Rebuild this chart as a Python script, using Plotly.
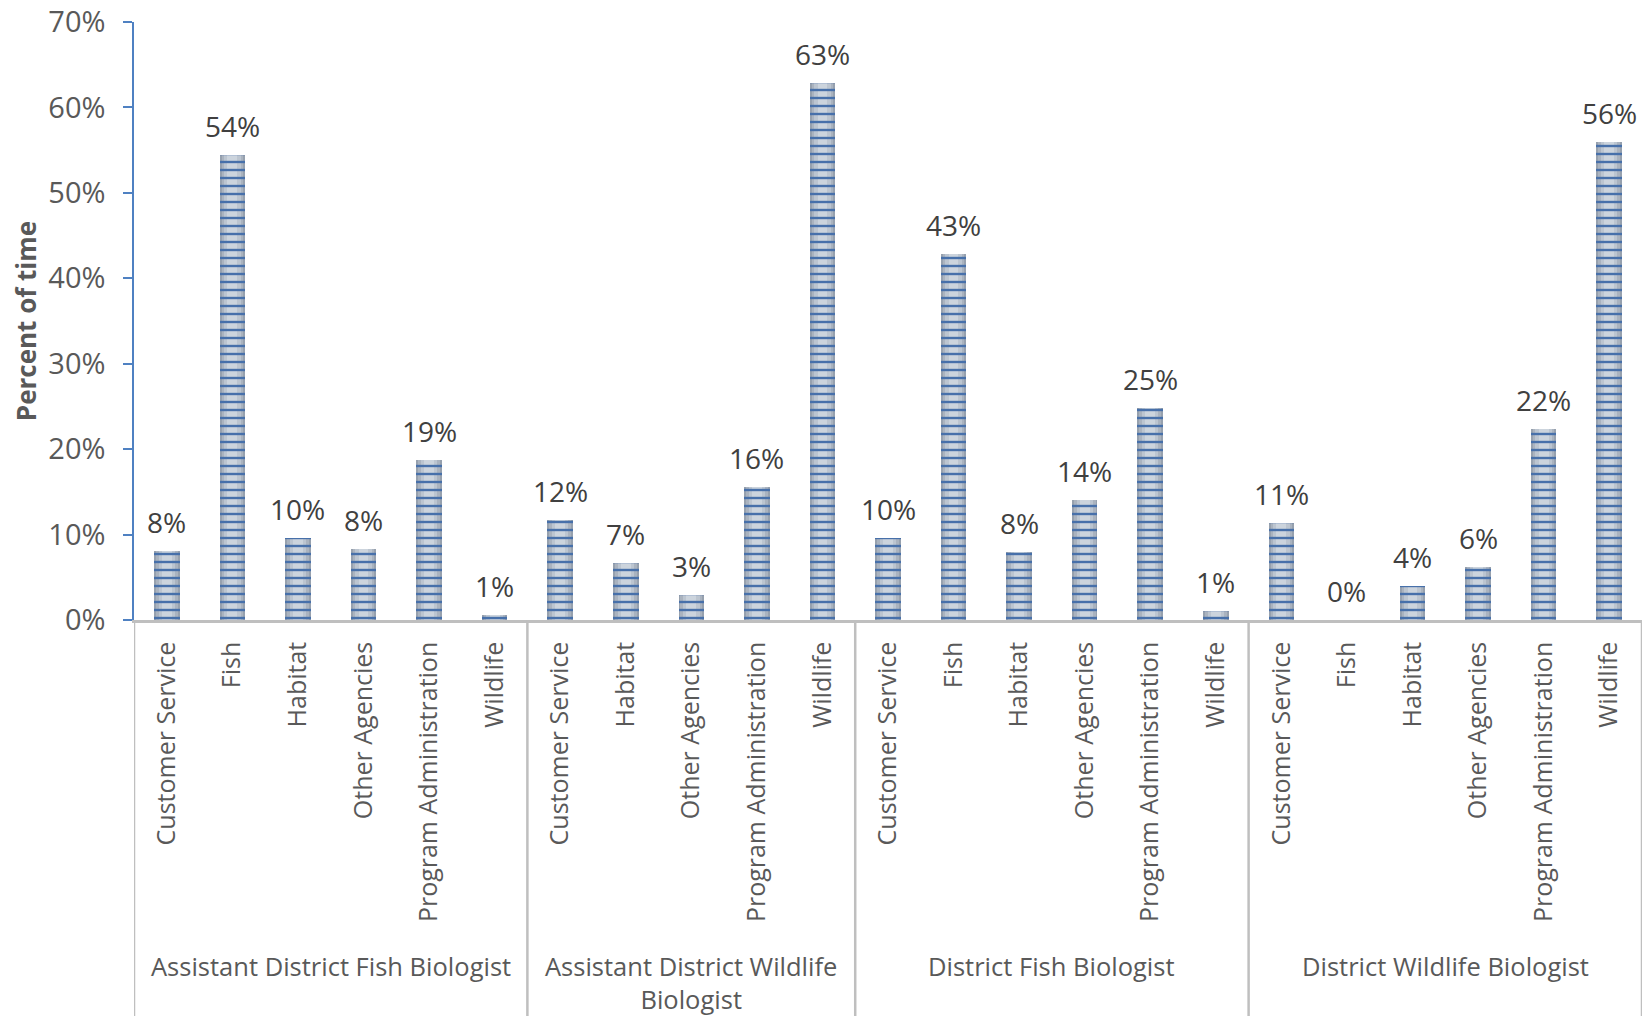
import plotly.graph_objects as go

# ---- data ----
groups = [
    "Assistant District Fish Biologist",
    "Assistant District Wildlife<br>Biologist",
    "District Fish Biologist",
    "District Wildlife Biologist",
]
cats_adfb = ["Customer Service", "Fish", "Habitat", "Other Agencies", "Program Administration", "Wildlife"]
vals_adfb = [8.1, 54.4, 9.6, 8.3, 18.7, 0.6]
cats_adwb = ["Customer Service", "Habitat", "Other Agencies", "Program Administration", "Wildlife"]
vals_adwb = [11.7, 6.7, 2.9, 15.6, 62.9]
cats_dfb = ["Customer Service", "Fish", "Habitat", "Other Agencies", "Program Administration", "Wildlife"]
vals_dfb = [9.6, 42.8, 8.0, 14.0, 24.8, 1.1]
cats_dwb = ["Customer Service", "Fish", "Habitat", "Other Agencies", "Program Administration", "Wildlife"]
vals_dwb = [11.4, 0.0, 4.0, 6.2, 22.3, 55.9]
y_ticks = [0, 10, 20, 30, 40, 50, 60, 70]

group_cats = [cats_adfb, cats_adwb, cats_dfb, cats_dwb]
group_vals = [vals_adfb, vals_adwb, vals_dfb, vals_dwb]

cats, vals = [], []
for c, v in zip(group_cats, group_vals):
    cats += c
    vals += v
xs = list(range(len(cats)))
yv = [v / 100 for v in vals]

FONT = "Open Sans"
fig = go.Figure()

# gradient body (dark edges -> light centre)
for w, col in [(0.39, "#97a1ae"), (0.33, "#aab3bf"), (0.25, "#bcc5d0"), (0.15, "#ccd4dd")]:
    fig.add_trace(go.Bar(x=xs, y=yv, width=w, marker=dict(color=col, line=dict(width=0)),
                         hoverinfo="skip", showlegend=False))
# stripes
fig.add_trace(go.Bar(x=xs, y=yv, width=0.39,
                     marker=dict(color="#4770aa", line=dict(width=0),
                                 pattern=dict(shape="-", size=8, solidity=0.3, fillmode="replace")),
                     showlegend=False))

# data labels
for x, v in zip(xs, vals):
    fig.add_annotation(x=x, y=v / 100, text=f"{round(v)}%", showarrow=False,
                       yanchor="bottom", yshift=8,
                       font=dict(family=FONT, size=28, color="#404040"))

# group labels and separators
start = 0
PH = 598
bounds = [-0.5]
for g, c in zip(groups, group_cats):
    n = len(c)
    center = start + (n - 1) / 2
    fig.add_annotation(x=center, xref="x", y=(620 - 947) / PH, yref="paper", text=g,
                       showarrow=False, yanchor="top",
                       font=dict(family=FONT, size=25.5, color="#595959"))
    start += n
    bounds.append(start - 0.5)
for b in bounds:
    fig.add_shape(type="line", xref="x", yref="paper", x0=b, x1=b, y0=0, y1=-0.7,
                  line=dict(color="#bfbfbf", width=2.5))

fig.update_layout(
    width=1648, height=1016,
    margin=dict(l=134, r=6, t=22, b=396),
    plot_bgcolor="white", paper_bgcolor="white",
    barmode="overlay", bargap=0,
    font=dict(family=FONT, color="#595959"),
)
fig.update_xaxes(
    range=[-0.5, len(cats) - 0.5], tickmode="array", tickvals=xs, ticktext=cats,
    tickangle=-90, tickfont=dict(family=FONT, size=25, color="#595959"),
    showline=True, linecolor="#bfbfbf", linewidth=2.5, ticks="", showgrid=False,
    zeroline=False, ticklabelstandoff=9, automargin=False,
)
fig.update_yaxes(
    range=[0, 0.7], tickmode="array", tickvals=[t / 100 for t in y_ticks],
    ticktext=[f"{t}%" for t in y_ticks],
    tickfont=dict(family=FONT, size=29, color="#595959"),
    showline=True, linecolor="#4f81c2", linewidth=1.5, ticks="outside", ticklen=9,
    tickcolor="#4f81c2", tickwidth=1.5, showgrid=False, zeroline=False,
    ticklabelstandoff=12, automargin=False,
    title=dict(text="<b>Percent of time</b>", font=dict(family=FONT, size=26, color="#595959"),
               standoff=4),
)
fig.write_html("out.html")
